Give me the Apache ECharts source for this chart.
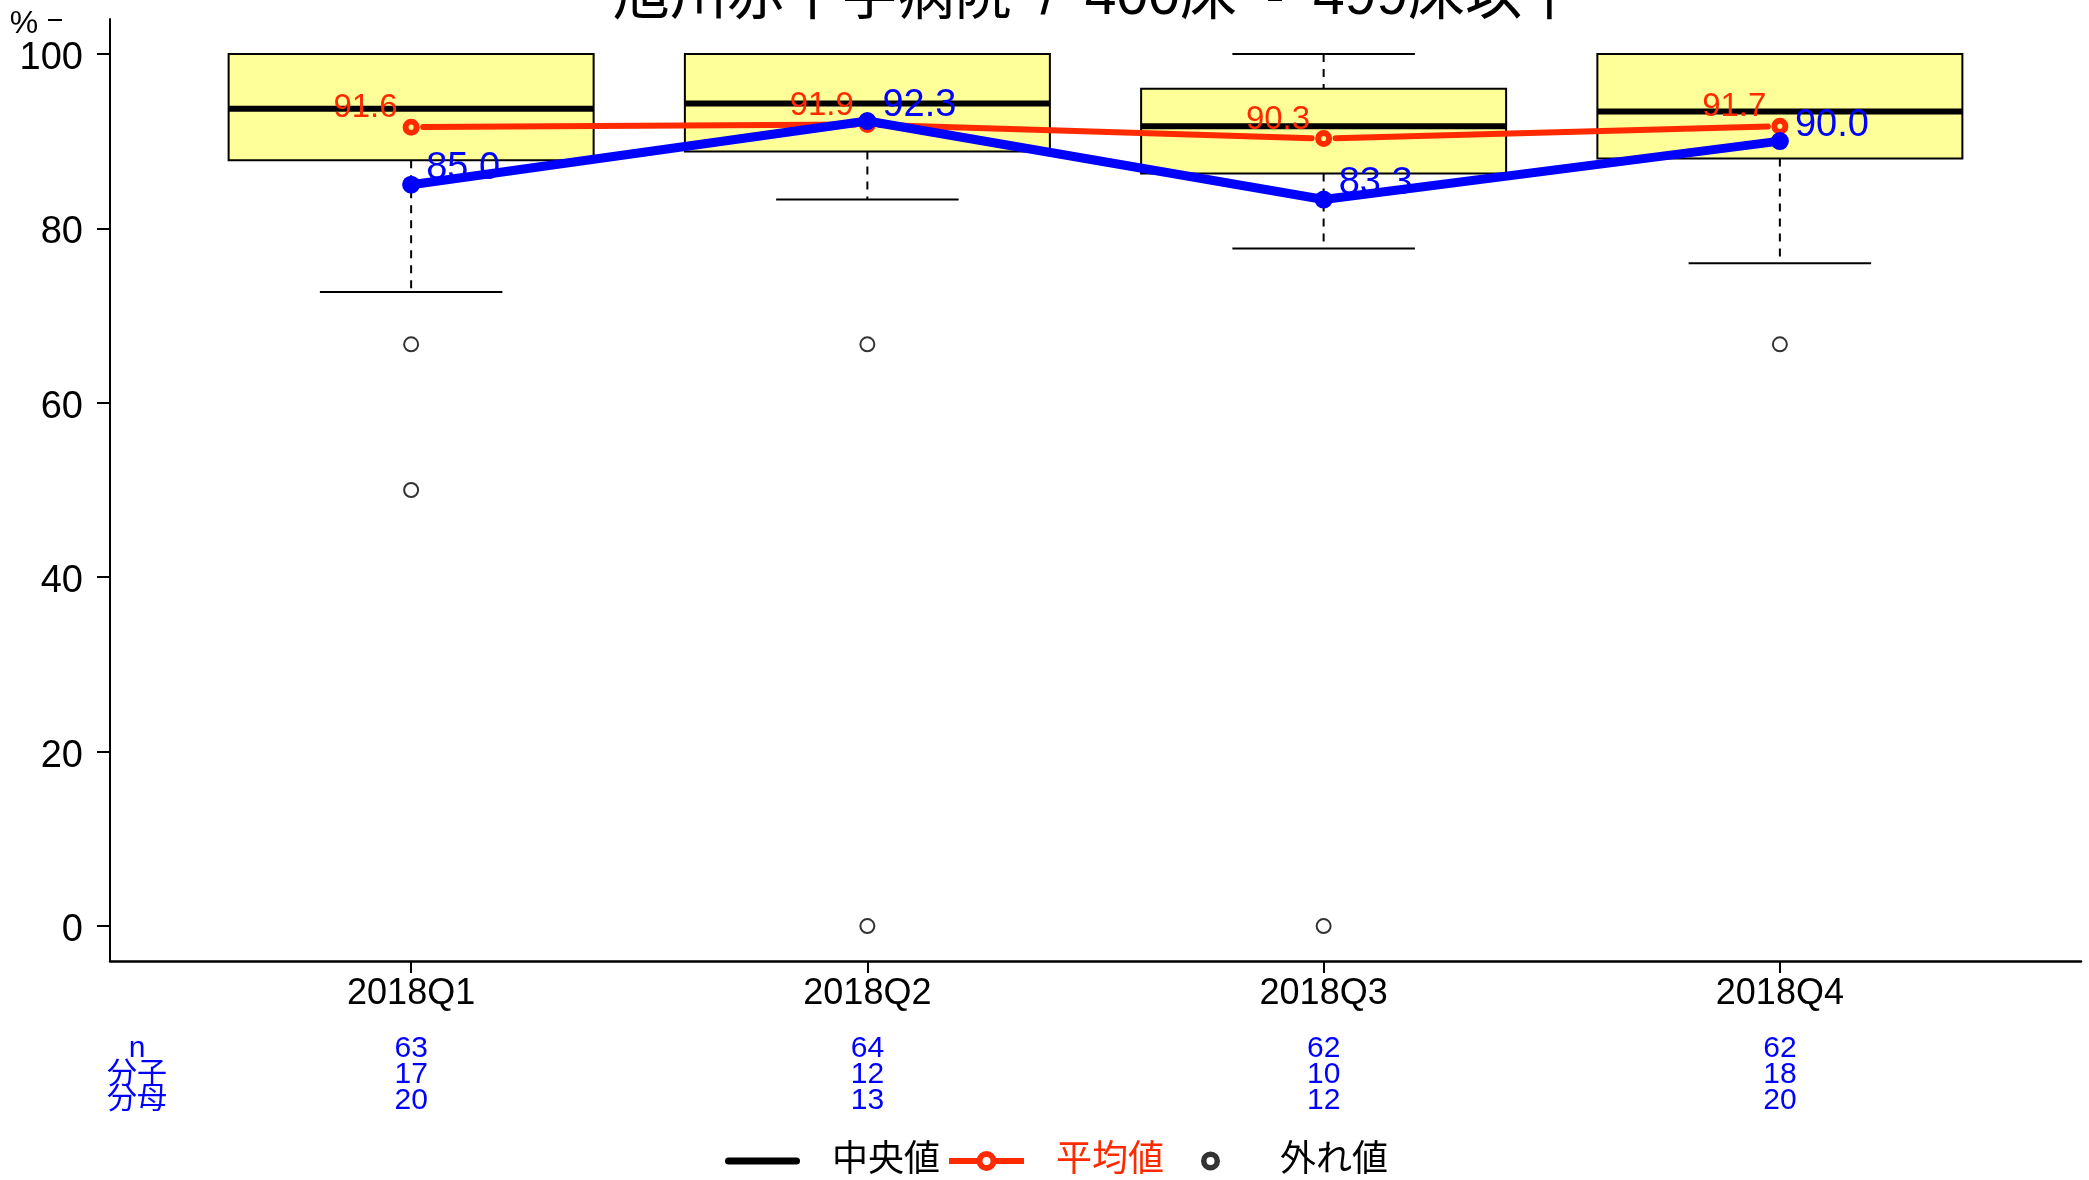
<!DOCTYPE html>
<html><head><meta charset="utf-8">
<script src="https://cdn.jsdelivr.net/npm/echarts@6/dist/echarts.min.js"></script>
<style>html,body{margin:0;padding:0;background:#fff}#c{width:2089px;height:1180px}</style>
</head><body><div id="c"></div>
<script>
const categories = ['2018Q1', '2018Q2', '2018Q3', '2018Q4'];
const lowerWhisker = [72.7, 83.3, 77.7, 76.0];
const lowerQuartile = [87.8, 88.8, 86.3, 88.0];
const medianValues = [93.7, 94.3, 91.7, 93.4];
const upperQuartile = [100, 100, 96.0, 100];
const upperWhisker = [100, 100, 100, 100];
const meanValues = [91.6, 91.9, 90.3, 91.7];
const hospitalValues = [85.0, 92.3, 83.3, 90.0];
const outlierCategory = [1, 1, 2, 2, 3, 4];
const outlierValues = [66.7, 50.0, 66.7, 0, 0, 66.7];
const nValues = [63, 64, 62, 62];
const numerators = [17, 12, 10, 18];
const denominators = [20, 13, 12, 20];
const yTicks = [0, 20, 40, 60, 80, 100];
const rowLabels = ['n', '分子', '分母'];
const titleText = '旭川赤十字病院\u2002/\u2002400床\u2002-\u2002499床以下';
const legendNames = ['中央値', '平均値', '外れ値'];

const FONT = '"Liberation Sans", Arial, "Noto Sans CJK JP", sans-serif';
const RED = '#FF2A00', BLUE = '#0000FF';
const catPos = categories.map((c, i) => i + 1);
const X_MIN = 0.34, X_MAX = 4.66;

const boxData = catPos.map((x, i) => [x, lowerWhisker[i], lowerQuartile[i], medianValues[i], upperQuartile[i], upperWhisker[i]]);
const meanData = catPos.map((x, i) => [x, meanValues[i]]);
const meanSegData = meanValues.slice(0, -1).map((v, i) => [catPos[i], v, catPos[i + 1], meanValues[i + 1]]);
const hospData = catPos.map((x, i) => [x, hospitalValues[i]]);
const outData = outlierCategory.map((x, i) => [x, outlierValues[i]]);

function renderBox(params, api) {
  const x = api.value(0);
  const lw = api.value(1), b1 = api.value(2), md = api.value(3), b3 = api.value(4), uw = api.value(5);
  const half = 0.4, capHalf = 0.2;
  const tl = api.coord([x - half, b3]);
  const br = api.coord([x + half, b1]);
  const pMdL = api.coord([x - half, md]), pMdR = api.coord([x + half, md]);
  const pUw = api.coord([x, uw]), pB3 = api.coord([x, b3]);
  const pLw = api.coord([x, lw]), pB1 = api.coord([x, b1]);
  const cuL = api.coord([x - capHalf, uw]), cuR = api.coord([x + capHalf, uw]);
  const clL = api.coord([x - capHalf, lw]), clR = api.coord([x + capHalf, lw]);
  const dash = { stroke: '#000', lineWidth: 2, lineDash: [8, 7] };
  const solid = { stroke: '#000', lineWidth: 2 };
  return {
    type: 'group',
    children: [
      { type: 'line', shape: { x1: pUw[0], y1: pUw[1], x2: pB3[0], y2: pB3[1] }, style: dash },
      { type: 'line', shape: { x1: pB1[0], y1: pB1[1], x2: pLw[0], y2: pLw[1] }, style: dash },
      { type: 'line', shape: { x1: cuL[0], y1: cuL[1], x2: cuR[0], y2: cuR[1] }, style: solid },
      { type: 'line', shape: { x1: clL[0], y1: clL[1], x2: clR[0], y2: clR[1] }, style: solid },
      { type: 'rect', shape: { x: tl[0], y: tl[1], width: br[0] - tl[0], height: br[1] - tl[1] },
        style: { fill: '#FFFF99', stroke: '#000', lineWidth: 2 } },
      { type: 'line', shape: { x1: pMdL[0], y1: pMdL[1], x2: pMdR[0], y2: pMdR[1] }, style: { stroke: '#000', lineWidth: 6 } }
    ]
  };
}

function renderGapSegment(params, api) {
  const a = api.coord([api.value(0), api.value(1)]);
  const b = api.coord([api.value(2), api.value(3)]);
  const dx = b[0] - a[0], dy = b[1] - a[1], L = Math.hypot(dx, dy), g = 12;
  const ux = dx / L, uy = dy / L;
  return { type: 'line', shape: { x1: a[0] + ux * g, y1: a[1] + uy * g, x2: b[0] - ux * g, y2: b[1] - uy * g },
    style: { stroke: RED, lineWidth: 6, lineCap: 'round' } };
}

function tableAxis(values, margin) {
  return {
    type: 'value', min: X_MIN, max: X_MAX, position: 'bottom', gridIndex: 0,
    axisLine: { show: false, onZero: false }, axisTick: { show: false }, splitLine: { show: false },
    axisLabel: {
      customValues: catPos, formatter: v => String(values[Math.round(v) - 1]),
      color: BLUE, fontSize: 30, fontFamily: FONT, margin: margin, verticalAlign: 'middle'
    }
  };
}

const BBOX = 'M0,0L0.01,0L0.01,0.01Z M75,22L74.99,22L74.99,21.99Z ';
const ICON_MEDIAN = 'path://M3.5,0 L71.5,0 A3.5,3.5 0 0,1 71.5,7 L3.5,7 A3.5,3.5 0 0,1 3.5,0 Z';
const ICON_MEAN = 'path://' + BBOX +
  'M0,8 L29,8 L29,14 L0,14 Z M46,8 L75,8 L75,14 L46,14 Z ' +
  'M27.5,11 A10,10 0 1,1 47.5,11 A10,10 0 1,1 27.5,11 Z ' +
  'M33.5,11 A4,4 0 1,0 41.5,11 A4,4 0 1,0 33.5,11 Z';
const ICON_OUT = 'path://' + BBOX +
  'M28,11 A9.5,9.5 0 1,1 47,11 A9.5,9.5 0 1,1 28,11 Z ' +
  'M33.5,11 A4,4 0 1,0 41.5,11 A4,4 0 1,0 33.5,11 Z';
const MEAN_SYMBOL = 'path://M0,10 A10,10 0 1,1 20,10 A10,10 0 1,1 0,10 Z M7,10 A3,3 0 1,0 13,10 A3,3 0 1,0 7,10 Z';

const chart = echarts.init(document.getElementById('c'));
chart.setOption({
  animation: false,
  backgroundColor: '#fff',
  grid: { left: 110, right: 8, top: 19, bottom: 219 },
  xAxis: [
    {
      type: 'value', min: X_MIN, max: X_MAX, position: 'bottom',
      axisLine: { onZero: false, lineStyle: { color: '#000', width: 2.5 } },
      axisTick: { customValues: catPos, length: 12, lineStyle: { color: '#000', width: 2 } },
      splitLine: { show: false },
      axisLabel: { customValues: catPos, formatter: v => categories[Math.round(v) - 1], color: '#000', fontSize: 36, fontFamily: FONT, margin: 15 }
    },
    tableAxis(nValues, 88),
    tableAxis(numerators, 114),
    tableAxis(denominators, 140)
  ],
  yAxis: {
    type: 'value', min: -4, max: 104,
    axisLine: { show: true, onZero: false, lineStyle: { color: '#000', width: 2 } },
    axisTick: { show: true, customValues: yTicks, length: 13, lineStyle: { color: '#000', width: 2 } },
    splitLine: { show: false },
    axisLabel: {
      customValues: yTicks, color: '#000', fontSize: 38, fontFamily: FONT, margin: 27,
      formatter: v => '{a|' + v + '}',
      rich: { a: { fontSize: 38, fontFamily: FONT, color: '#000', padding: [9, 0, 0, 0] } }
    }
  },
  legend: {
    left: 720, top: 1138, itemWidth: 75, itemHeight: 22, itemGap: 9, selectedMode: false,
    textStyle: { fontSize: 36, fontFamily: FONT, color: '#000', padding: [0, 0, 0, 27] },
    data: [
      { name: legendNames[0], icon: ICON_MEDIAN, itemStyle: { color: '#000', borderWidth: 0 } },
      { name: legendNames[1], icon: ICON_MEAN, itemStyle: { color: RED, borderWidth: 0 }, textStyle: { color: RED } },
      { name: legendNames[2], icon: ICON_OUT, itemStyle: { color: '#000', borderWidth: 0 } }
    ]
  },
  graphic: [
    { type: 'text', x: 1096, y: -2, style: { text: titleText, font: '57px ' + FONT, fill: '#000', align: 'center', verticalAlign: 'middle' } },
    { type: 'text', x: 24, y: 24, style: { text: '%', font: '32px ' + FONT, fill: '#000', align: 'center', verticalAlign: 'middle' } },
    { type: 'line', shape: { x1: 48, y1: 20, x2: 62, y2: 20 }, style: { stroke: '#000', lineWidth: 2 } },
    { type: 'text', x: 137, y: 1049, style: { text: rowLabels[0], font: '30px ' + FONT, fill: BLUE, align: 'center', verticalAlign: 'middle' } },
    { type: 'text', x: 137, y: 1075, style: { text: rowLabels[1], font: '30px ' + FONT, fill: BLUE, align: 'center', verticalAlign: 'middle' } },
    { type: 'text', x: 137, y: 1100, style: { text: rowLabels[2], font: '30px ' + FONT, fill: BLUE, align: 'center', verticalAlign: 'middle' } }
  ],
  series: [
    {
      name: legendNames[0], type: 'custom', renderItem: renderBox, data: boxData,
      itemStyle: { color: '#000' }, encode: { x: 0, y: [1, 2, 3, 4, 5] }, z: 2
    },
    {
      name: legendNames[2], type: 'scatter', data: outData, symbol: 'emptyCircle', symbolSize: 14,
      itemStyle: { color: '#000', borderColor: '#000', borderWidth: 2.5 }, z: 3
    },
    {
      name: 'meanSegments', type: 'custom', renderItem: renderGapSegment, data: meanSegData,
      encode: { x: [0, 2], y: [1, 3] }, z: 4, silent: true
    },
    {
      name: legendNames[1], type: 'line', data: meanData, symbol: MEAN_SYMBOL, symbolSize: 17,
      lineStyle: { color: RED, width: 0, opacity: 0 }, itemStyle: { color: RED, borderWidth: 0 },
      label: { show: true, formatter: p => p.value[1].toFixed(1), color: RED, fontSize: 33, fontFamily: FONT,
        position: [-5, 6], align: 'right', verticalAlign: 'bottom' }, z: 4
    },
    {
      name: 'hospital', type: 'line', data: hospData, symbol: 'circle', symbolSize: 18,
      lineStyle: { color: BLUE, width: 9 }, itemStyle: { color: BLUE },
      label: { show: true, formatter: p => p.value[1].toFixed(1), color: BLUE, fontSize: 38, fontFamily: FONT,
        position: [24, 12], align: 'left', verticalAlign: 'bottom' }, z: 5
    }
  ]
});
</script>
</body></html>
